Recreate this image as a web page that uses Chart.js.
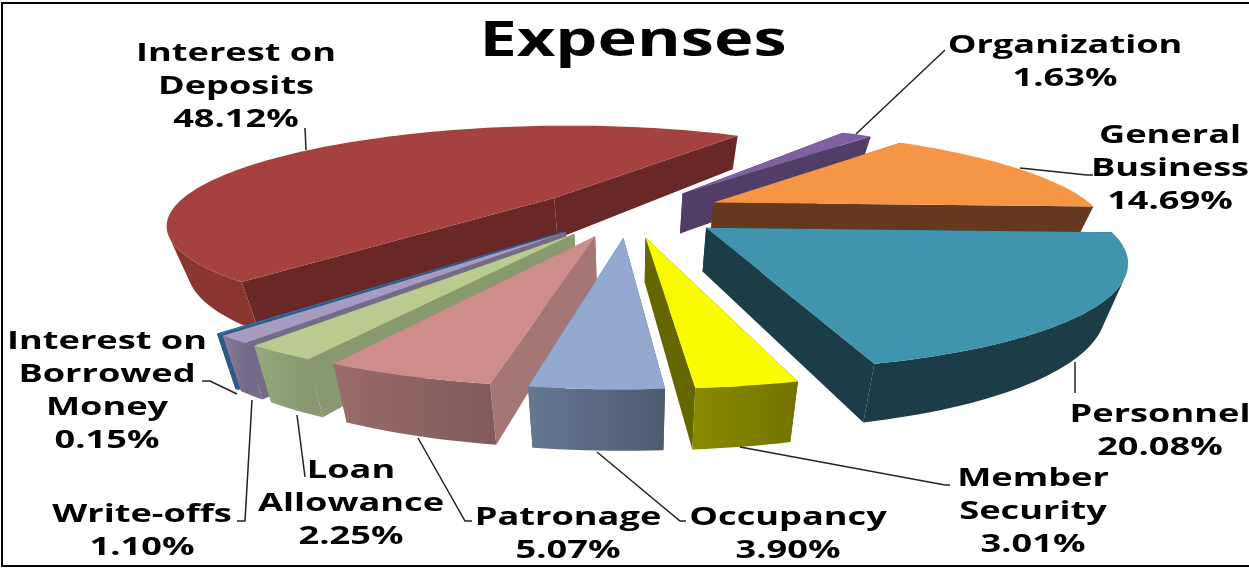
<!DOCTYPE html>
<html>
<head>
<meta charset="utf-8">
<script src="https://cdn.jsdelivr.net/npm/chart.js@4"></script>
<style>html,body{margin:0;padding:0;background:#fff}canvas{display:block}</style>
</head>
<body>
<canvas id="c" width="1249" height="568"></canvas>
<script>
const chartTitle = 'Expenses';
const categories = ['Organization','General Business','Personnel','Member Security','Occupancy','Patronage','Loan Allowance','Write-offs','Interest on Borrowed Money','Interest on Deposits'];
const values = [1.63,14.69,20.08,3.01,3.90,5.07,2.25,1.10,0.15,48.12];
const labelLines = [['Organization'],['General','Business'],['Personnel'],['Member','Security'],['Occupancy'],['Patronage'],['Loan','Allowance'],['Write-offs'],['Interest on','Borrowed','Money'],['Interest on','Deposits']];
const topColors  = ['#7F60A0','#F49645','#4194AE','#FAFA00','#93A9CF','#CE8D8B','#B9CC8F','#A69BC0','#2F6CA0','#A5423F'];
const edgeColors = ['#523D66','#65391D','#1A3D48','#666600','#4D5B6F','#A47775','#87996F','#756B88','#2B5A86','#692827'];
const wallFrom   = ['#523D66','#65391D','#1A3D48','#8A8A00','#667892','#9A6B69','#95A97A','#877B9A','#2B5A86','#8B3533'];
const wallTo     = ['#523D66','#65391D','#1A3D48','#737300','#4D5B6F','#825C5B','#87996F','#756B88','#2B5A86','#8B3533'];
const labelX = [1065,1170,1160,1033,788,568,351,142,107,236];
const labelY = [46,136,415,479,518,518,471,515,342,54];
const leaders = [
  [[856,134],[945,50]],
  [[1020,168],[1087,175],[1093,175]],
  [[1075,362],[1075,393]],
  [[740,447],[945,485],[950,485]],
  [[597,452],[680,521],[686,521]],
  [[418,438],[465,521],[472,521]],
  [[297,415],[305,477]],
  [[252,400],[245,521],[237,521]],
  [[237,394],[210,381],[202,381]],
  [[305,128],[306,150]]
];

const view = {cx:628, cy:212, a:97, b:385, p:0.2537, h:42, shrink:0.045};
const lineGap = 33, textFont = 'bold 25px "Open Sans"', stretch = 1.447;

function project(X, Y, z) {
  const w = 1 - view.p * Y;
  return [view.cx + view.b * X / w * (1 - view.shrink * z), view.cy + view.a * Y / w + view.h * z / w];
}
function poly(ctx, pts, fill) {
  ctx.beginPath();
  pts.forEach((q, i) => i ? ctx.lineTo(q[0], q[1]) : ctx.moveTo(q[0], q[1]));
  ctx.closePath();
  ctx.fillStyle = fill;
  ctx.fill();
}
function quadArea(a, b, c, d) {
  const s = [a, b, c, d];
  let t = 0;
  s.forEach((q, i) => { const n = s[(i + 1) % 4]; t += q[0] * n[1] - n[0] * q[1]; });
  return t;
}
function drawSlice(ctx, arc, i) {
  const mid = (arc.startAngle + arc.endAngle) / 2;
  const e = arc.options.offset / 4 / arc.outerRadius;
  const ox = e * Math.cos(mid), oy = e * Math.sin(mid);
  const steps = Math.max(4, Math.ceil((arc.endAngle - arc.startAngle) * 40));
  const rim = [];
  for (let k = 0; k <= steps; k++) {
    const t = arc.startAngle + (arc.endAngle - arc.startAngle) * k / steps;
    rim.push([ox + Math.cos(t), oy + Math.sin(t)]);
  }
  const P = (q, z) => project(q[0], q[1], z);
  const apex = [ox, oy];
  const first = rim[0], last = rim[rim.length - 1];
  poly(ctx, [P(apex,0), P(first,0), P(first,1), P(apex,1)], edgeColors[i]);
  poly(ctx, [P(apex,0), P(last,0), P(last,1), P(apex,1)], edgeColors[i]);
  const front = [];
  for (let k = 0; k < steps; k++) {
    if (quadArea(P(rim[k],0), P(rim[k+1],0), P(rim[k+1],1), P(rim[k],1)) < 0) {
      if (!front.length || front[front.length-1] !== rim[k]) front.push(rim[k]);
      front.push(rim[k+1]);
    }
  }
  if (front.length > 1) {
    const xs = front.map(q => P(q,0)[0]);
    const g = ctx.createLinearGradient(Math.min(...xs), 0, Math.max(...xs), 0);
    g.addColorStop(0, wallFrom[i]);
    g.addColorStop(1, wallTo[i]);
    poly(ctx, front.map(q => P(q,0)).concat(front.slice().reverse().map(q => P(q,1))), g);
  }
  poly(ctx, [P(apex,0)].concat(rim.map(q => P(q,0))), topColors[i]);
}
function stretchedText(ctx, str, x, y, sx) {
  ctx.save();
  ctx.translate(x, y);
  ctx.scale(sx, 1);
  ctx.fillText(str, 0, 0);
  ctx.restore();
}
const pie3d = {
  id: 'pie3d',
  beforeDatasetsDraw(chart) {
    const ctx = chart.ctx, arcs = chart.getDatasetMeta(0).data;
    ctx.save();
    const order = arcs.map((a, i) => {
      const m = (a.startAngle + a.endAngle) / 2;
      return [Math.sin(m) * (a.endAngle - a.startAngle < 3 ? 1 : 0), i];
    }).sort((u, v) => u[0] - v[0]);
    order.forEach(o => drawSlice(ctx, arcs[o[1]], o[1]));
    ctx.restore();
    return false;
  },
  afterDraw(chart) {
    const ctx = chart.ctx;
    ctx.save();
    ctx.strokeStyle = '#000';
    ctx.lineWidth = 2;
    ctx.strokeRect(2, 3, 1262, 563);
    ctx.lineWidth = 1.5;
    ctx.strokeStyle = '#222';
    leaders.forEach(l => {
      ctx.beginPath();
      l.forEach((q, i) => i ? ctx.lineTo(q[0], q[1]) : ctx.moveTo(q[0], q[1]));
      ctx.stroke();
    });
    ctx.fillStyle = '#000';
    ctx.textAlign = 'center';
    ctx.textBaseline = 'middle';
    ctx.font = 'bold 48px "Open Sans"';
    stretchedText(ctx, chartTitle, 633, 42, 1.39);
    ctx.font = textFont;
    labelLines.forEach((lines, i) => {
      lines.concat([values[i].toFixed(2) + '%']).forEach((s, k) => {
        stretchedText(ctx, s, labelX[i], labelY[i] + k * lineGap, stretch);
      });
    });
    ctx.restore();
  }
};
new Chart(document.getElementById('c'), {
  type: 'pie',
  data: {
    labels: categories,
    datasets: [{ data: values, backgroundColor: topColors, borderWidth: 0, offset: 189 }]
  },
  options: {
    responsive: false,
    animation: false,
    rotation: 33.7,
    layout: { padding: 0 },
    plugins: { legend: { display: false }, tooltip: { enabled: false } }
  },
  plugins: [pie3d]
});
</script>
</body>
</html>
